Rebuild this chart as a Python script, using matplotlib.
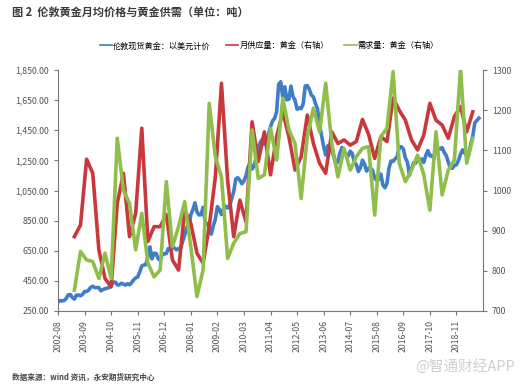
import numpy as np
import matplotlib
matplotlib.use("Agg")
import matplotlib.pyplot as plt

plt.rcParams['font.family'] = ['Noto Sans CJK SC', 'DejaVu Sans']

# monthly London spot gold, USD (2002-08 onwards)
gold_price = [
    310, 319, 317, 319, 333,
    357, 359, 340, 329, 355, 356, 351, 360, 379, 379, 389, 407,
    414, 405, 406, 404, 384, 392, 398, 401, 406, 420, 439, 442,
    424, 423, 434, 429, 422, 431, 424, 438, 456, 470, 476, 510,
    549, 555, 557, 610, 676, 596, 633, 632, 598, 586, 628, 629,
    631, 665, 655, 679, 667, 655, 665, 665, 712, 754, 806, 803,
    889, 922, 968, 909, 888, 889, 939, 839, 830, 806, 760, 816,
    858, 943, 924, 890, 928, 946, 934, 949, 996, 1043, 1127, 1135,
    1118, 1095, 1113, 1148, 1205, 1232, 1193, 1215, 1271, 1342, 1370, 1391,
    1356, 1372, 1424, 1474, 1512, 1529, 1573, 1756, 1772, 1666, 1739, 1652,
    1656, 1743, 1675, 1649, 1589, 1598, 1594, 1626, 1744, 1747, 1722, 1684,
    1671, 1627, 1593, 1487, 1414, 1343, 1286, 1347, 1349, 1316, 1275, 1225,
    1244, 1300, 1336, 1299, 1287, 1279, 1311, 1296, 1239, 1222, 1176, 1201,
    1251, 1227, 1179, 1198, 1199, 1182, 1131, 1117, 1125, 1159, 1087, 1068,
    1097, 1200, 1246, 1243, 1260, 1276, 1337, 1341, 1326, 1267, 1238, 1152,
    1192, 1234, 1231, 1267, 1246, 1260, 1237, 1283, 1315, 1280, 1282, 1265,
    1331, 1331, 1325, 1335, 1303, 1282, 1238, 1202, 1198, 1215, 1221, 1250,
    1291, 1320, 1300, 1285, 1284, 1359, 1413, 1500, 1515, 1530,
]

# quarterly supply / demand, tonnes (right axis), first point 2003-04
supply = [
    885, 914, 1078, 1043, 852, 781, 760, 968, 1043, 885, 943, 1155, 873, 910, 910, 940,
    827, 802, 951, 918, 844, 819, 910, 1034, 1267, 1026, 885, 976, 922, 1171, 1072, 1146,
    1039, 1134, 1196, 1134, 1051, 1084, 1188, 1117, 1068, 1043, 1146, 1117, 1126, 1113, 1122, 1177, 1140,
    1080, 1134, 1122, 1230, 1200, 1175, 1126, 1101, 1138, 1217, 1175, 1163, 1130, 1184, 1209, 1146, 1196,
]
demand = [
    752, 848, 827, 823, 781, 844, 781, 1130, 1001, 968, 852, 943, 819, 785, 802, 1022,
    860, 910, 972, 860, 736, 802, 1217, 1084, 1034, 831, 869, 893, 897, 1151, 1030, 1039,
    1155, 1076, 1230, 1151, 1117, 980, 1134, 1205, 1146, 1267, 1117, 1034, 1105, 1051, 1084, 1105, 1109,
    939, 1134, 1155, 1296, 1068, 1022, 1051, 1088, 1040, 951, 1146, 989, 1051, 1076, 1304, 1068, 1130,
]

tick_labels = ['2002-08', '2003-09', '2004-10', '2005-11', '2006-12', '2008-01',
               '2009-02', '2010-03', '2011-04', '2012-05', '2013-06', '2014-07',
               '2015-08', '2016-09', '2017-10', '2018-11']

x_month = np.arange(len(gold_price))
x_quarter = 8 + 3 * np.arange(len(supply))

blue = '#3f7dc8'
red = '#c9393c'
green = '#8fbe4b'
grey = '#555555'

fig = plt.figure(figsize=(5.25, 3.88), dpi=100)
ax = fig.add_axes([0.1105, 0.1985, 0.8095, 0.621])
ax2 = ax.twinx()

l1, = ax.plot(x_month, gold_price, color=blue, lw=2.6, solid_joinstyle='round')
l2, = ax2.plot(x_quarter, supply, color=red, lw=2.6, solid_joinstyle='round')
l3, = ax2.plot(x_quarter, demand, color=green, lw=2.6, solid_joinstyle='round')

ax.set_xlim(0, 208)
ax.set_ylim(250, 1850)
ax2.set_ylim(700, 1300)

ax.set_yticks(np.arange(250, 1851, 200))
ax.set_yticklabels(['{:,.2f}'.format(v) for v in np.arange(250, 1851, 200)])
ax2.set_yticks(np.arange(700, 1301, 100))
ax.set_xticks(np.arange(len(tick_labels)) * 13)
ax.set_xticklabels(tick_labels, rotation=90)

for a in (ax, ax2):
    a.spines['top'].set_visible(False)
    for s in ('left', 'right', 'bottom'):
        a.spines[s].set_color('#777777')
        a.spines[s].set_linewidth(0.8)
    a.tick_params(colors='#777777', labelcolor=grey, labelsize=6.3, length=3, width=0.8)
ax.spines['right'].set_visible(False)
ax2.spines['left'].set_visible(False)
ax2.spines['bottom'].set_visible(False)

fig.legend([l1, l2, l3], ['伦敦现货黄金：以美元计价', '月供应量：黄金（右轴）', '需求量：黄金（右轴）'],
           loc='center', bbox_to_anchor=(0.513, 0.882), ncol=3, frameon=False,
           fontsize=5.9, handlelength=1.5, handletextpad=0.1, columnspacing=1.9)
for h in fig.legends[0].legend_handles:
    h.set_linewidth(1.2)

fig.text(0.023, 0.967, '图 2  伦敦黄金月均价格与黄金供需（单位：吨）', fontsize=8,
         fontweight='bold', color='#3a3a3a', va='center')
fig.text(0.023, 0.028, '数据来源：wind 资讯，永安期货研究中心', fontsize=5.5,
         fontweight='bold', color='#444444', va='center')
fig.text(0.98, 0.055, '@智通财经APP', fontsize=10.5, color='#cfcfcf', ha='right', va='center')

fig.savefig('out.png', dpi=100)
